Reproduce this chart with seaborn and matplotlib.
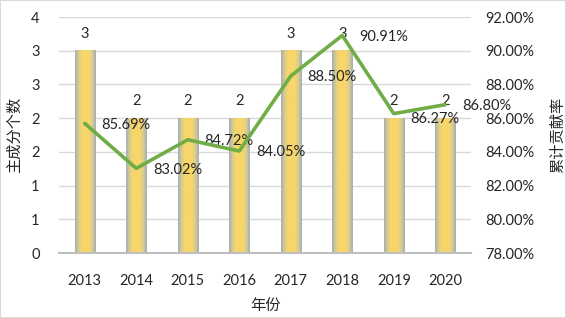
import numpy as np
import pandas as pd
import matplotlib
matplotlib.use('Agg')
import matplotlib.pyplot as plt
from matplotlib.colors import LinearSegmentedColormap
import seaborn as sns

# 数据
years = ['2013', '2014', '2015', '2016', '2017', '2018', '2019', '2020']
n_components = [3, 2, 2, 2, 3, 3, 2, 2]
cum_ratio = [85.69, 83.02, 84.72, 84.05, 88.50, 90.91, 86.27, 86.80]
left_ticks = [0, 0.5, 1, 1.5, 2, 2.5, 3, 3.5]
left_tick_labels = ['0', '1', '1', '2', '2', '3', '3', '4']
right_ticks = [78, 80, 82, 84, 86, 88, 90, 92]

df = pd.DataFrame({'year': years, 'n': n_components, 'ratio': cum_ratio})

sns.set_style("white")
plt.rcParams['font.family'] = ['Lato', 'Noto Sans CJK SC', 'DejaVu Sans']

fig = plt.figure(figsize=(5.66, 3.18), dpi=100, linewidth=1.2, edgecolor='#D9D9D9')
ax = fig.add_axes([0.1042, 0.2044, 0.728, 0.742])

sns.barplot(data=df, x='year', y='n', color='#F8D66A', width=0.39, ax=ax, zorder=2)

# 渐变填充（边缘灰蓝，中间黄色）
bar_cmap = LinearSegmentedColormap.from_list('bar', ['#A2ACB6', '#D8CD8E', '#F8D66A', '#F8D66A', '#F8D66A', '#D8CD8E', '#A2ACB6'])
grad = np.linspace(0, 1, 128).reshape(1, -1)
for p in list(ax.patches):
    x0, y0, w, h = p.get_x(), p.get_y(), p.get_width(), p.get_height()
    p.set_facecolor('none')
    p.set_edgecolor('none')
    ax.imshow(grad, cmap=bar_cmap, extent=[x0, x0 + w, y0, y0 + h], aspect='auto',
              zorder=2, interpolation='bicubic')

ax.bar_label(ax.containers[0], labels=[str(v) for v in n_components], padding=7, fontsize=10.5, zorder=5)

ax.set_xlim(-0.5, len(years) - 0.5)
ax.set_ylim(0, 3.5)
ax.set_yticks(left_ticks)
ax.set_yticklabels(left_tick_labels)
ax.yaxis.grid(True, color='#D9D9D9', linewidth=1)
ax.set_axisbelow(True)
ax.tick_params(axis='y', length=0, pad=14, labelsize=10.5)
ax.tick_params(axis='x', length=0, pad=15, labelsize=10.5)
for s in ['left', 'right', 'top']:
    ax.spines[s].set_visible(False)
ax.spines['bottom'].set_color('#BFBFBF')
ax.spines['bottom'].set_linewidth(1.5)
ax.spines['bottom'].set_zorder(3)
ax.set_xlabel('年份', fontsize=11, labelpad=8)
ax.set_ylabel('主成分个数', fontsize=11)
ax.yaxis.set_label_coords(-0.09, 0.5)

# 累计贡献率折线
ax2 = ax.twinx()
sns.lineplot(x=np.arange(len(years)), y=cum_ratio, color='#70AD47', linewidth=2.6, ax=ax2, zorder=4)
ax2.set_ylim(78, 92)
ax2.set_yticks(right_ticks)
ax2.set_yticklabels([f'{v:.2f}%' for v in right_ticks])
ax2.tick_params(axis='y', length=0, pad=10, labelsize=10.5)
for s in ax2.spines.values():
    s.set_visible(False)
ax2.set_ylabel('累计贡献率', fontsize=11, rotation=90)
ax2.yaxis.set_label_coords(1.194, 0.5)
for i, v in enumerate(cum_ratio):
    dy = -4 if years[i] == '2019' else -1
    ax2.annotate(f'{v:.2f}%', (i, v), xytext=(12, dy), textcoords='offset points',
                 ha='left', va='center', fontsize=10.5)
ax2.set_xlim(-0.5, len(years) - 0.5)

fig.savefig('out.png', dpi=100, edgecolor=fig.get_edgecolor())
